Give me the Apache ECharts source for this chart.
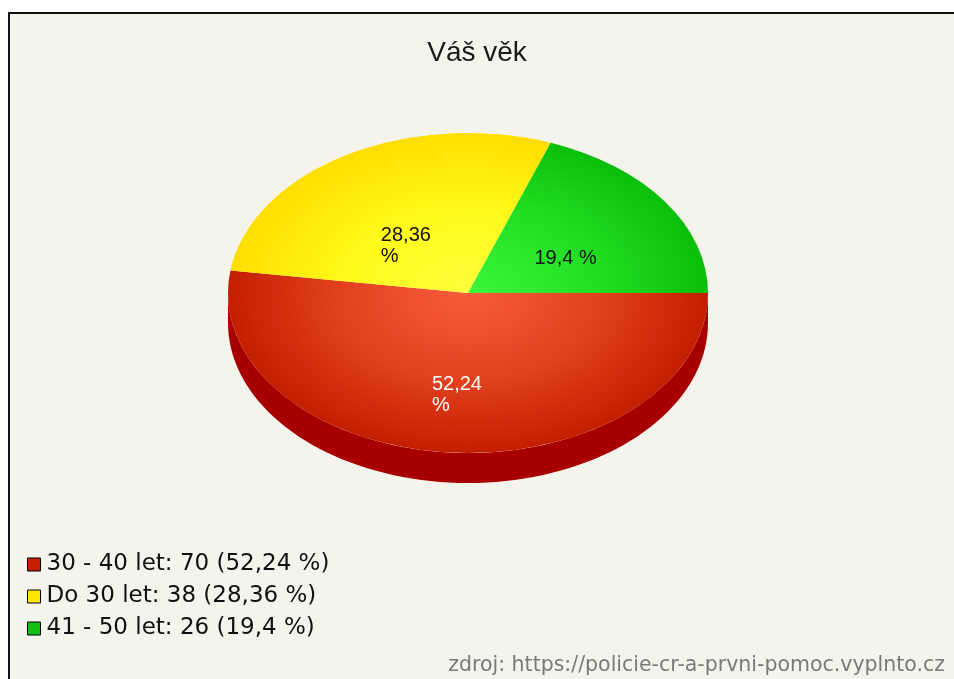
<!DOCTYPE html>
<html>
<head>
<meta charset="utf-8">
<script src="https://cdn.jsdelivr.net/npm/echarts@6/dist/echarts.min.js"></script>
<style>
  html, body { margin: 0; padding: 0; background: #fff; }
  #chart-container { width: 954px; height: 679px; }
</style>
</head>
<body>
<div id="chart-container"></div>
<script>
const categories = ['30 - 40 let', 'Do 30 let', '41 - 50 let'];
const values = [70, 38, 26];
const sourceNote = 'zdroj: https://policie-cr-a-prvni-pomoc.vyplnto.cz';

const total = values.reduce((s, v) => s + v, 0);
const pct = v => String(Math.round(v / total * 10000) / 100).replace('.', ',');

// top face gradient: [centre, middle, rim]
const faceColors = [
  ['#f85c3c', '#e2401e', '#c41e00'],
  ['#ffff3c', '#fff818', '#ffde00'],
  ['#3cf63c', '#22de22', '#0abf0a']
];
const sideColors = ['#a80000', '#c8a800', '#089008'];
const legendColors = ['#c42000', '#ffe400', '#12c012'];

const pieCenter = [468, 293];
const rx = 240, ry = 160, depth = 30;

function renderSlice(params, api) {
  const i = params.dataIndex;
  let before = 0;
  for (let k = 0; k < i; k++) before += values[k];
  const a0 = before / total * Math.PI * 2;
  const a1 = (before + api.value(0)) / total * Math.PI * 2;
  const cx = pieCenter[0], cy = pieCenter[1];
  const children = [];

  // side wall - only the front half is visible
  const s0 = Math.max(a0, 0), s1 = Math.min(a1, Math.PI);
  if (s1 > s0) {
    const pts = [];
    const n = 80;
    for (let k = 0; k <= n; k++) {
      const t = s0 + (s1 - s0) * k / n;
      pts.push([cx + rx * Math.cos(t), cy + ry * Math.sin(t)]);
    }
    for (let k = n; k >= 0; k--) {
      const t = s0 + (s1 - s0) * k / n;
      pts.push([cx + rx * Math.cos(t), cy + ry * Math.sin(t) + depth]);
    }
    children.push({
      type: 'polygon', z2: 1,
      shape: { points: pts },
      style: { fill: sideColors[i] }
    });
  }

  children.push({
    type: 'sector', z2: 2,
    x: cx, y: cy, scaleY: ry / rx,
    shape: { cx: 0, cy: 0, r0: 0, r: rx, startAngle: a0, endAngle: a1 },
    style: {
      fill: {
        type: 'radial', x: 0, y: 0, r: rx, global: true,
        colorStops: [
          { offset: 0, color: faceColors[i][0] },
          { offset: 0.55, color: faceColors[i][1] },
          { offset: 1, color: faceColors[i][2] }
        ]
      }
    }
  });

  // label: first line sits on the anchor, long text wraps under it
  const mid = (a0 + a1) / 2;
  const lx = cx + 0.48 * rx * Math.cos(mid);
  const ly = cy + 0.5 * ry * Math.sin(mid) + 12;
  children.push({
    type: 'text', z2: 3,
    x: lx - 28, y: ly - 11,
    style: {
      text: pct(api.value(0)) + ' %',
      width: 66, overflow: 'break',
      align: 'left', verticalAlign: 'top',
      lineHeight: 21,
      fill: i === 0 ? '#ffffff' : '#111111',
      font: '20px "Liberation Sans"'
    }
  });

  return { type: 'group', children: children };
}

let dom = document.getElementById('chart-container');
let myChart = echarts.init(dom, null, { renderer: 'canvas' });

let option = {
  animation: false,
  backgroundColor: '#ffffff',
  title: {
    text: 'Váš věk',
    left: 'center',
    top: 34,
    textStyle: { fontFamily: 'Liberation Sans', fontSize: 28, fontWeight: 'normal', color: '#1a1a1a' }
  },
  legend: {
    orient: 'vertical',
    left: 22,
    top: 548,
    itemGap: 9,
    itemWidth: 13,
    itemHeight: 13,
    icon: 'rect',
    selectedMode: false,
    itemStyle: { borderColor: '#000', borderWidth: 1 },
    textStyle: { fontFamily: 'DejaVu Sans', fontSize: 23, color: '#111', padding: [0, 0, 0, 1] },
    formatter: name => {
      const i = categories.indexOf(name);
      return name + ': ' + values[i] + ' (' + pct(values[i]) + ' %)';
    },
    data: categories
  },
  graphic: [
    {
      type: 'rect', z: -10, silent: true,
      shape: { x: 9, y: 13, width: 980, height: 700 },
      style: { fill: '#f5f4ec', stroke: '#111', lineWidth: 2 }
    },
    {
      type: 'text', right: 9, top: 655, silent: true,
      style: { text: sourceNote, font: '20.5px "DejaVu Sans"', fill: '#7a7a7a' }
    }
  ],
  series: [
    {
      type: 'custom',
      coordinateSystem: 'none',
      silent: true,
      renderItem: renderSlice,
      data: values
    },
    {
      // invisible pie, only feeds the legend
      type: 'pie',
      radius: 0,
      center: pieCenter,
      silent: true,
      label: { show: false },
      labelLine: { show: false },
      data: categories.map((name, i) => ({ name: name, value: values[i], itemStyle: { color: legendColors[i] } }))
    }
  ]
};

if (option && typeof option === 'object') {
  myChart.setOption(option);
}

window.addEventListener('resize', myChart.resize);
</script>
</body>
</html>
